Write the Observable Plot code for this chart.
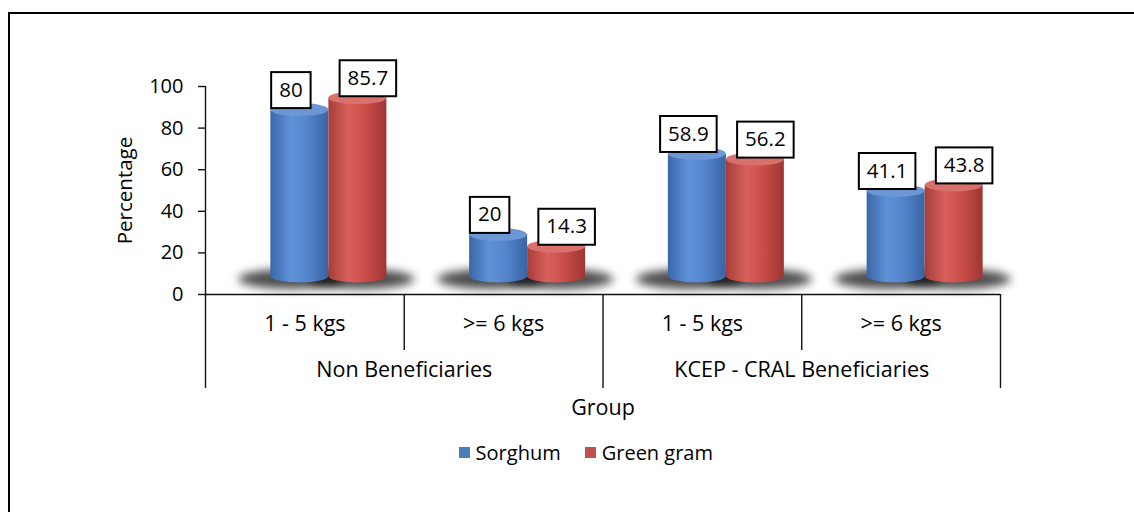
<!DOCTYPE html>
<html>
<head>
<meta charset="utf-8">
<script src="https://cdn.jsdelivr.net/npm/d3@7"></script>
<script src="https://cdn.jsdelivr.net/npm/@observablehq/plot@0.6"></script>
<style>
  html, body { margin: 0; padding: 0; background: #fff; overflow: hidden; }
  #frame { position: absolute; left: 8px; top: 12px; width: 1300px; height: 700px;
           border-left: 2px solid #000; border-top: 2px solid #000; }
  #chart { position: absolute; left: 0; top: 0; width: 1134px; height: 512px; }
  #legend { position: absolute; right: 421px; top: 441px; display: flex; align-items: center; height: 22px;
            font-family: "Open Sans", Lato, sans-serif; font-size: 20px; color: #000; }
  #legend .sw { width: 11px; height: 11px; margin-right: 6px; }
  #legend .item { display: flex; align-items: center; }
  #legend .item + .item { margin-left: 24px; }
</style>
</head>
<body>
<div id="frame"></div>
<div id="chart"></div>
<script>
// Seed quantity bought, by group and crop (percent of farmers)
const groups = ["Non Beneficiaries", "KCEP - CRAL Beneficiaries"];
const sizes = ["1 - 5 kgs", ">= 6 kgs"];
const crops = ["Sorghum", "Green gram"];
const sorghum = [80, 20, 58.9, 41.1];
const greenGram = [85.7, 14.3, 56.2, 43.8];
const yTicks = [0, 20, 40, 60, 80, 100];
const colors = {Sorghum: "#4A7EBB", "Green gram": "#C0504D"};

const FONT = '"Open Sans", Lato, sans-serif';

// One record per cylinder; pos is the centre of the group/size slot on the x axis
const data = [];
groups.forEach((group, g) => sizes.forEach((size, s) => {
  const k = g * 2 + s;
  data.push({group, size, crop: "Sorghum", value: sorghum[k], pos: k + 0.5});
  data.push({group, size, crop: "Green gram", value: greenGram[k], pos: k + 0.5});
}));
const slots = groups.flatMap((group, g) => sizes.map((size, s) => ({size, pos: g * 2 + s + 0.5})));
const groupLabels = groups.map((group, g) => ({group, pos: g * 2 + 1}));

// Cylinder geometry (pixels)
const RX = 29, RY = 6.5, LIFT = 18;
const cropShift = {Sorghum: -5, "Green gram": 53};
const shades = {
  Sorghum: {stops: ["#3b67a8", "#5e92d7", "#5486cd", "#3a64a3"], top: "#6b98d5"},
  "Green gram": {stops: ["#a63d39", "#d9605b", "#cc4e49", "#9d3633"], top: "#d8716c"}
};

function cylinders(index, scales, values) {
  const X = values.x, Y = values.y;
  const y0 = scales.y(0) - LIFT;
  const g = d3.create("svg:g");
  const defs = g.append("defs");
  defs.append("filter").attr("id", "cyl-shadow").attr("x", "-50%").attr("y", "-200%")
      .attr("width", "200%").attr("height", "500%")
    .append("feGaussianBlur").attr("stdDeviation", 5);
  for (const crop of crops) {
    const id = "cyl-" + crop.replace(/\s/g, "");
    const lg = defs.append("linearGradient").attr("id", id).attr("x1", 0).attr("x2", 1).attr("y1", 0).attr("y2", 0);
    [0, 0.35, 0.62, 1].forEach((o, j) => lg.append("stop").attr("offset", o).attr("stop-color", shades[crop].stops[j]));
  }
  // floor shadows
  for (const i of index) {
    const crop = data[i].crop;
    const cx = X[i] + cropShift[crop] + (crop === "Sorghum" ? -8 : 4);
    g.append("ellipse").attr("cx", cx).attr("cy", y0 + 3).attr("rx", RX + 24).attr("ry", 10)
      .attr("fill", "#000").attr("fill-opacity", 0.7).attr("filter", "url(#cyl-shadow)");
  }
  // bodies and tops
  for (const i of index) {
    const crop = data[i].crop;
    const cx = X[i] + cropShift[crop];
    const yt = Y[i] - LIFT;
    const xl = cx - RX, xr = cx + RX;
    g.append("path")
      .attr("d", `M${xl},${yt}L${xl},${y0}A${RX},${RY} 0 0 0 ${xr},${y0}L${xr},${yt}Z`)
      .attr("fill", `url(#cyl-${crop.replace(/\s/g, "")})`);
    g.append("ellipse").attr("cx", cx).attr("cy", yt).attr("rx", RX).attr("ry", RY)
      .attr("fill", shades[crop].top);
  }
  return g.node();
}

// White boxes with a black outline behind the value labels
const LABEL_SIZE = 20.5;
const measure = document.createElement("canvas").getContext("2d");
function boxed(index, scales, values, dims, ctx, next) {
  const g = next(index, scales, values, dims, ctx);
  measure.font = `${LABEL_SIZE}px ${FONT}`;
  for (const i of [...index].reverse()) {
    const w = measure.measureText(values.text[i]).width + 16;
    const r = document.createElementNS("http://www.w3.org/2000/svg", "rect");
    r.setAttribute("x", values.x[i] - w / 2);
    r.setAttribute("y", values.y[i] - 18);
    r.setAttribute("width", w);
    r.setAttribute("height", 36);
    r.setAttribute("fill", "#fff");
    r.setAttribute("stroke", "#000");
    r.setAttribute("stroke-width", 2);
    g.insertBefore(r, g.firstChild);
  }
  return g;
}

const labelShift = {Sorghum: -14, "Green gram": 63};
const valueLabels = crops.map(crop => Plot.text(data.filter(d => d.crop === crop), {
  x: "pos", y: "value", text: d => String(d.value),
  dx: labelShift[crop], dy: -LIFT - 20, fontSize: LABEL_SIZE, fill: "#000", render: boxed
}));

const axisLine = {stroke: "#111", strokeWidth: 1.4};
const CAT_SIZE = 21.5;

const chart = Plot.plot({
  width: 1134,
  height: 430,
  marginLeft: 205,
  marginRight: 134,
  marginTop: 86,
  marginBottom: 42,
  x: {domain: [0, 4], axis: null},
  y: {domain: [0, 100], insetBottom: 94, axis: null},
  style: {fontFamily: FONT, fontSize: "20px", color: "#000", background: "transparent", overflow: "visible"},
  marks: [
    // y axis line runs down through the category labels
    Plot.ruleX([0], axisLine),
    // long dividers between groups, short dividers between sizes
    Plot.ruleX([2, 4], {y1: 0, y2: 0, insetBottom: -94, ...axisLine}),
    Plot.ruleX([1, 3], {y1: 0, y2: 0, insetBottom: -56, ...axisLine}),
    Plot.ruleY([0], axisLine),
    Plot.axisY(yTicks, {tickSize: 7, tickPadding: 15, label: null, fontSize: 20, ...axisLine}),
    Plot.dot(data, {x: "pos", y: "value", render: cylinders}),
    ...valueLabels,
    Plot.text(slots, {x: "pos", y: 0, text: "size", dy: 30, fontSize: CAT_SIZE}),
    Plot.text(groupLabels, {x: "pos", y: 0, text: "group", dy: 76, fontSize: CAT_SIZE}),
    Plot.text(["Group"], {x: 2, y: 0, dy: 114, fontSize: CAT_SIZE}),
    Plot.text(["Percentage"], {frameAnchor: "left", textAnchor: "middle", rotate: -90, dx: -80, dy: -47, fontSize: 20.5})
  ]
});
const holder = document.getElementById("chart");
holder.appendChild(chart);

// Legend below the chart
const legend = document.createElement("div");
legend.id = "legend";
for (const crop of crops) {
  const item = document.createElement("div");
  item.className = "item";
  const sw = document.createElement("div");
  sw.className = "sw";
  sw.style.background = colors[crop];
  item.appendChild(sw);
  item.appendChild(document.createTextNode(crop));
  legend.appendChild(item);
}
holder.appendChild(legend);
</script>
</body>
</html>
